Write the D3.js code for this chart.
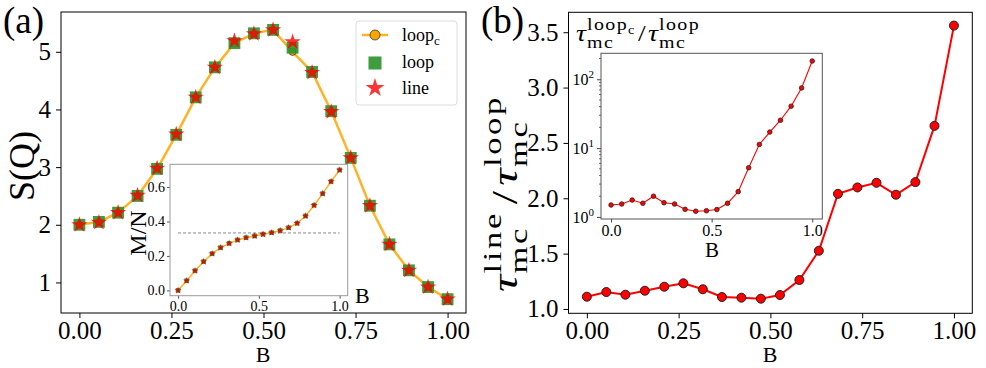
<!DOCTYPE html>
<html>
<head>
<meta charset="utf-8">
<script src="https://cdn.jsdelivr.net/npm/d3@7"></script>
<style>
body { margin: 0; background: #fff; }
svg { font-family: "Liberation Serif", "Times New Roman", serif; }
</style>
</head>
<body>
<svg id="fig" width="986" height="368"></svg>
<script>

// Field values B (shared x for every series)
const bValues = [0, 0.053, 0.105, 0.158, 0.211, 0.263, 0.316, 0.368, 0.421, 0.474,
                 0.526, 0.579, 0.632, 0.684, 0.737, 0.789, 0.842, 0.895, 0.947, 1.0];

// (a) structure factor S(Q)
const sqLoopc = [2.0, 2.05, 2.21, 2.5, 2.97, 3.56, 4.21, 4.73, 5.15, 5.32,
                 5.38, 5.0, 4.65, 3.97, 3.16, 2.33, 1.66, 1.21, 0.92, 0.71];
const sqLoop  = [2.0, 2.05, 2.21, 2.5, 2.97, 3.56, 4.21, 4.73, 5.15, 5.32,
                 5.38, 5.07, 4.65, 3.97, 3.16, 2.33, 1.66, 1.21, 0.92, 0.71];
const sqLine  = [2.0, 2.04, 2.21, 2.51, 2.98, 3.57, 4.21, 4.73, 5.19, 5.31,
                 5.38, 5.17, 4.64, 3.96, 3.16, 2.33, 1.66, 1.21, 0.92, 0.71];

// (a) inset magnetisation M/N
const mOverN  = [0.0, 0.056, 0.114, 0.167, 0.213, 0.248, 0.273, 0.293, 0.306, 0.316,
                 0.326, 0.335, 0.347, 0.364, 0.39, 0.432, 0.494, 0.562, 0.632, 0.699];
const mPlateau = 1 / 3;

// (b) autocorrelation time ratios
const tauLineOverLoop  = [1.111, 1.153, 1.129, 1.165, 1.201, 1.232, 1.178, 1.108, 1.102, 1.093,
                          1.126, 1.262, 1.526, 2.04, 2.098, 2.14, 2.032, 2.146, 2.654, 3.56];
const tauLoopcOverLoop = [1.49, 1.54, 1.76, 1.58, 2.0, 1.61, 1.54, 1.29, 1.21, 1.23,
                          1.28, 1.58, 2.33, 5.18, 11.3, 17.1, 25.4, 40.6, 74.8, 184];

// Tick values
const aXTicks = [0, 0.25, 0.5, 0.75, 1.0];
const aYTicks = [1, 2, 3, 4, 5];
const insetAXTicks = [0, 0.5, 1.0];
const insetAYTicks = [0, 0.2, 0.4, 0.6];
const bXTicks = [0, 0.25, 0.5, 0.75, 1.0];
const bYTicks = [1.0, 1.5, 2.0, 2.5, 3.0, 3.5];
const insetBXTicks = [0, 0.5, 1.0];
const insetBYTicks = [1, 10, 100];

const svg = d3.select('#fig');
const ORANGE = '#ffa500', GREEN = '#2a922a', RED = '#ff0000';

// ---------- helpers ----------
function drawAxis(g, axis, transform, fs, color) {
    let a = g.append('g').attr('transform', transform).call(axis);
    a.attr('font-family', null).attr('font-size', null);
    a.select('.domain').remove();
    a.selectAll('line').attr('stroke', color || '#000');
    a.selectAll('text')
        .style('font-family', '"Liberation Serif", "Times New Roman", serif')
        .style('font-size', fs + 'px').attr('fill', '#000');
    return a;
}

function frame(g, x, y, color, width) {
    let r = [x.range(), y.range()];
    g.append('rect')
        .attr('x', r[0][0]).attr('y', Math.min(r[1][0], r[1][1]))
        .attr('width', r[0][1] - r[0][0]).attr('height', Math.abs(r[1][0] - r[1][1]))
        .attr('fill', 'none').attr('stroke', color).attr('stroke-width', width || 1);
}

// Place "base^sup_sub ..." pieces along the local x axis starting at 0.
function mathLabel(g, parts, fs, ls) {
    let x = 0;
    let s = fs * 0.72;
    parts.forEach(p => {
        let base = g.append('text').attr('x', x).attr('y', 0)
            .style('font-size', fs + 'px').text(p.t);
        if (p.it) base.style('font-style', 'italic');
        x += base.node().getComputedTextLength() + (p.gap || 0);
        let w = 0;
        if (p.sup) {
            let t = g.append('text').attr('x', x).attr('y', -fs * 0.45)
                .style('font-size', s + 'px').style('letter-spacing', ls + 'px').text(p.sup);
            let tw = t.node().getComputedTextLength();
            if (p.supSub) {
                let c = g.append('text').attr('x', x + tw).attr('y', -fs * 0.45 + s * 0.22)
                    .style('font-size', (s * 0.72) + 'px').text(p.supSub);
                tw += c.node().getComputedTextLength();
            }
            w = Math.max(w, tw);
        }
        if (p.sub) {
            let t = g.append('text').attr('x', x).attr('y', fs * 0.28)
                .style('font-size', s + 'px').style('letter-spacing', ls + 'px').text(p.sub);
            w = Math.max(w, t.node().getComputedTextLength());
        }
        x += w + (p.after || 0);
    });
    return x;
}

// ================= Panel (a) =================
const ax = d3.scaleLinear().domain([-0.05, 1.05]).range([61, 466]);
const ay = d3.scaleLinear().domain([0.47, 5.69]).range([313, 12]);
const ga = svg.append('g');

drawAxis(ga, d3.axisBottom(ax).tickValues(aXTicks).tickFormat(d3.format('.2f')).tickSize(5).tickPadding(3),
         'translate(0,313)', 25);
drawAxis(ga, d3.axisLeft(ay).tickValues(aYTicks).tickFormat(d3.format('d')).tickSize(5).tickPadding(5),
         'translate(61,0)', 25);

let lineA = d3.line().x((d, i) => ax(bValues[i])).y(d => ay(d));
ga.append('path').attr('d', lineA(sqLoopc))
    .attr('fill', 'none').attr('stroke', ORANGE).attr('stroke-width', 2.5).attr('opacity', 0.85);
ga.append('g').selectAll('circle').data(sqLoopc).enter().append('circle')
    .attr('cx', (d, i) => ax(bValues[i])).attr('cy', d => ay(d)).attr('r', 3.6)
    .attr('fill', ORANGE).attr('stroke', '#333').attr('stroke-width', 0.8);
ga.append('g').selectAll('path').data(sqLoop).enter().append('path')
    .attr('d', d3.symbol(d3.symbolSquare, 140))
    .attr('transform', (d, i) => 'translate(' + ax(bValues[i]) + ',' + ay(d) + ')')
    .attr('fill', GREEN).attr('opacity', 0.9);
ga.append('g').selectAll('path').data(sqLine).enter().append('path')
    .attr('d', d3.symbol(d3.symbolStar, 82))
    .attr('transform', (d, i) => 'translate(' + ax(bValues[i]) + ',' + ay(d) + ')')
    .attr('fill', RED).attr('opacity', 0.8);

frame(ga, ax, ay, '#000', 1);

// labels
ga.append('text').attr('x', 263).attr('y', 362).attr('text-anchor', 'middle')
    .style('font-size', '22px').text('B');
ga.append('text').attr('transform', 'translate(34,166) rotate(-90)').attr('text-anchor', 'middle')
    .style('font-size', '36px').text('S(Q)');
svg.append('text').attr('x', 3).attr('y', 33).style('font-size', '37px').text('(a)');

// legend
const leg = ga.append('g');
leg.append('rect').attr('x', 356).attr('y', 21).attr('width', 101).attr('height', 84).attr('rx', 3)
    .attr('fill', '#fff').attr('fill-opacity', 0.85).attr('stroke', '#ddd');
leg.append('line').attr('x1', 362).attr('x2', 388).attr('y1', 35).attr('y2', 35)
    .attr('stroke', ORANGE).attr('stroke-width', 2.5).attr('opacity', 0.85);
leg.append('circle').attr('cx', 375).attr('cy', 35).attr('r', 5)
    .attr('fill', ORANGE).attr('stroke', '#333').attr('stroke-width', 0.8);
leg.append('path').attr('d', d3.symbol(d3.symbolSquare, 170))
    .attr('transform', 'translate(375,63)').attr('fill', GREEN).attr('opacity', 0.9);
leg.append('path').attr('d', d3.symbol(d3.symbolStar, 110))
    .attr('transform', 'translate(375,88)').attr('fill', RED).attr('opacity', 0.8);
let lt = leg.append('text').attr('x', 402).attr('y', 41).style('font-size', '18px');
lt.append('tspan').text('loop');
lt.append('tspan').attr('dy', 4).style('font-size', '13px').text('c');
leg.append('text').attr('x', 402).attr('y', 68).style('font-size', '18px').text('loop');
leg.append('text').attr('x', 402).attr('y', 94).style('font-size', '18px').text('line');

// ---------- inset (a) ----------
const ix = d3.scaleLinear().domain([-0.05, 1.05]).range([170, 347.7]);
const iy = d3.scaleLinear().domain([-0.031, 0.732]).range([295.7, 164.3]);
const gi = svg.append('g');
gi.append('rect').attr('x', 170).attr('y', 164.3).attr('width', 177.7).attr('height', 131.4).attr('fill', '#fff');

drawAxis(gi, d3.axisBottom(ix).tickValues(insetAXTicks).tickFormat(d3.format('.1f')).tickSize(3).tickPadding(2),
         'translate(0,295.7)', 14, '#555');
drawAxis(gi, d3.axisLeft(iy).tickValues(insetAYTicks).tickFormat(d3.format('.1f')).tickSize(3).tickPadding(2),
         'translate(170,0)', 14, '#555');

gi.append('line').attr('x1', ix(0)).attr('x2', ix(1)).attr('y1', iy(mPlateau)).attr('y2', iy(mPlateau))
    .attr('stroke', '#888').attr('stroke-width', 1).attr('stroke-dasharray', '3,2');
let lineI = d3.line().x((d, i) => ix(bValues[i])).y(d => iy(d));
gi.append('path').attr('d', lineI(mOverN))
    .attr('fill', 'none').attr('stroke', ORANGE).attr('stroke-width', 1.5).attr('opacity', 0.85);
gi.append('g').selectAll('path').data(mOverN).enter().append('path')
    .attr('d', d3.symbol(d3.symbolSquare, 22))
    .attr('transform', (d, i) => 'translate(' + ix(bValues[i]) + ',' + iy(d) + ')')
    .attr('fill', GREEN).attr('opacity', 0.9);
gi.append('g').selectAll('path').data(mOverN).enter().append('path')
    .attr('d', d3.symbol(d3.symbolStar, 16))
    .attr('transform', (d, i) => 'translate(' + ix(bValues[i]) + ',' + iy(d) + ')')
    .attr('fill', '#e00000').attr('opacity', 0.9);
frame(gi, ix, iy, '#999', 1);

gi.append('text').attr('x', 355).attr('y', 303).style('font-size', '22px').text('B');
gi.append('text').attr('transform', 'translate(146,233) rotate(-90)').attr('text-anchor', 'middle')
    .style('font-size', '24px').text('M/N');

// ================= Panel (b) =================
const bx = d3.scaleLinear().domain([-0.05, 1.05]).range([568.5, 972.3]);
const by = d3.scaleLinear().domain([0.961, 3.68]).range([313.3, 12.3]);
const gb = svg.append('g');

drawAxis(gb, d3.axisBottom(bx).tickValues(bXTicks).tickFormat(d3.format('.2f')).tickSize(5).tickPadding(3),
         'translate(0,313.3)', 25);
drawAxis(gb, d3.axisLeft(by).tickValues(bYTicks).tickFormat(d3.format('.1f')).tickSize(5).tickPadding(5),
         'translate(568.5,0)', 25);

let lineB = d3.line().x((d, i) => bx(bValues[i])).y(d => by(d));
gb.append('path').attr('d', lineB(tauLineOverLoop))
    .attr('fill', 'none').attr('stroke', RED).attr('stroke-width', 2);
gb.append('g').selectAll('circle').data(tauLineOverLoop).enter().append('circle')
    .attr('cx', (d, i) => bx(bValues[i])).attr('cy', d => by(d)).attr('r', 4.5)
    .attr('fill', RED).attr('stroke', '#222').attr('stroke-width', 1);
frame(gb, bx, by, '#000', 1);

gb.append('text').attr('x', 770).attr('y', 362).attr('text-anchor', 'middle')
    .style('font-size', '22px').text('B');
svg.append('text').attr('x', 481).attr('y', 33).style('font-size', '37px').text('(b)');

// rotated y label  tau_mc^line / tau_mc^loop, stretched along its length to the reference span
const ylab = gb.append('g');
let ylabW = mathLabel(ylab, [
    {t: 'τ', it: true, sup: 'line', sub: 'mc', after: 5, gap: 1},
    {t: '/', gap: 4},
    {t: 'τ', it: true, sup: 'loop', sub: 'mc', gap: 1}
], 36, 2);
ylab.attr('transform', 'translate(517,292) rotate(-90) scale(' + (197 / ylabW) + ',1)');

// ---------- inset (b) ----------
const jx = d3.scaleLinear().domain([-0.05, 1.05]).range([601, 822.3]);
const jy = d3.scaleLog().domain([Math.pow(10, -0.03), Math.pow(10, 2.377)]).range([219, 53.3]);
const gj = svg.append('g');
gj.append('rect').attr('x', 601).attr('y', 53.3).attr('width', 221.3).attr('height', 165.7).attr('fill', '#fff');

drawAxis(gj, d3.axisBottom(jx).tickValues(insetBXTicks).tickFormat(d3.format('.1f')).tickSize(3.5).tickPadding(2),
         'translate(0,219)', 16, '#444');
drawAxis(gj, d3.axisLeft(jy).tickValues(insetBYTicks).tickFormat('').tickSize(4).tickPadding(3),
         'translate(601,0)', 16, '#444');
// 10^k labels
insetBYTicks.forEach(v => {
    let t = gj.append('text').attr('x', 594).attr('y', jy(v) + 6).attr('text-anchor', 'end')
        .style('font-size', '16px');
    t.append('tspan').text('10');
    t.append('tspan').attr('dy', -7).style('font-size', '11px').text(String(Math.round(Math.log10(v))));
});
// minor log ticks
let minor = [];
[0.1, 1, 10, 100].forEach(dec => {
    for (let m = 2; m <= 9; m++) {
        let v = dec * m;
        if (v > jy.domain()[0] && v < jy.domain()[1]) minor.push(v);
    }
});
gj.append('g').selectAll('line').data(minor).enter().append('line')
    .attr('x1', 599).attr('x2', 601).attr('y1', d => jy(d)).attr('y2', d => jy(d))
    .attr('stroke', '#444').attr('stroke-width', 0.8);

let lineJ = d3.line().x((d, i) => jx(bValues[i])).y(d => jy(d));
gj.append('path').attr('d', lineJ(tauLoopcOverLoop))
    .attr('fill', 'none').attr('stroke', RED).attr('stroke-width', 1.1);
gj.append('g').selectAll('circle').data(tauLoopcOverLoop).enter().append('circle')
    .attr('cx', (d, i) => jx(bValues[i])).attr('cy', d => jy(d)).attr('r', 2.3)
    .attr('fill', RED).attr('stroke', '#222').attr('stroke-width', 0.8);
frame(gj, jx, jy, '#555', 1);

gj.append('text').attr('x', 712).attr('y', 257).attr('text-anchor', 'middle')
    .style('font-size', '21px').text('B');

// inset title  tau_mc^{loop_c} / tau_mc^loop
const ttl = gj.append('g');
let ttlW = mathLabel(ttl, [
    {t: 'τ', it: true, sup: 'loop', supSub: 'c', sub: 'mc', after: 3, gap: 1},
    {t: '/', gap: 2},
    {t: 'τ', it: true, sup: 'loop', sub: 'mc', gap: 1}
], 24, 1.2);
ttl.attr('transform', 'translate(576,41) scale(' + (124 / ttlW) + ',1)');

</script>
</body>
</html>
